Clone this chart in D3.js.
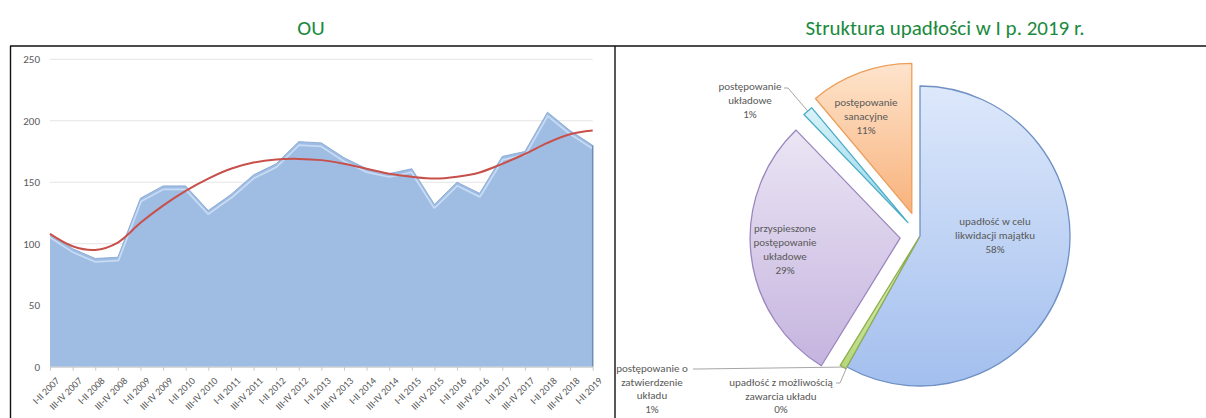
<!DOCTYPE html>
<html>
<head>
<meta charset="utf-8">
<script src="https://cdn.jsdelivr.net/npm/d3@7"></script>
<style>
  body { margin: 0; background: #fff; }
  svg { display: block; font-family: Carlito, Lato, "Open Sans", sans-serif; }
</style>
</head>
<body>
<div class="canvas"></div>
<script>
// ---- data: left chart (OU, half-years) ----
const periods = [
  'I-II 2007', 'III-IV 2007', 'I-II 2008', 'III-IV 2008', 'I-II 2009', 'III-IV 2009',
  'I-II 2010', 'III-IV 2010', 'I-II 2011', 'III-IV 2011', 'I-II 2012', 'III-IV 2012',
  'I-II 2013', 'III-IV 2013', 'I-II 2014', 'III-IV 2014', 'I-II 2015', 'III-IV 2015',
  'I-II 2016', 'III-IV 2016', 'I-II 2017', 'III-IV 2017', 'I-II 2018', 'III-IV 2018',
  'I-II 2019'
];
const ouValues = [108, 96, 88, 89, 137, 147, 147, 127, 140, 156, 165, 183, 182, 170, 161, 157, 161, 132, 150, 141, 171, 175, 207, 192, 180];
// trend line at each period
const trendValues = [108, 98, 95, 101, 117, 131, 143, 153, 161, 166, 168.5, 169, 168, 165, 161, 157, 154.5, 153, 154.5, 158, 165, 173, 182, 189, 192];
const yTicks = [0, 50, 100, 150, 200, 250];

// ---- data: right chart (structure of bankruptcies, I half 2019) ----
const pieNames = [
  'upadłość w celu\nlikwidacji majątku',
  'upadłość z możliwością\nzawarcia układu',
  'postępowanie o\nzatwierdzenie\nukładu',
  'przyspieszone\npostępowanie\nukładowe',
  'postępowanie\nukładowe',
  'postępowanie\nsanacyjne'
];
const pieShares = [58.1, 0, 0.7, 29.0, 1.1, 11.1];

// ---- styles / layout ----
const titleColor = '#1a8a3e';
const textColor = '#595959';
const sliceStyle = [
  { top: '#dde8fb', bottom: '#a3bfee', stroke: '#6f90c4', explode: 0 },
  { top: '#f5d0cf', bottom: '#e59a98', stroke: '#c0504d', explode: 0 },
  { top: '#e3f3c4', bottom: '#b5d77a', stroke: '#8fb04f', explode: 2 },
  { top: '#ebe5f4', bottom: '#c5b4df', stroke: '#9a86bd', explode: 20 },
  { top: '#daf3f9', bottom: '#8fd4e7', stroke: '#4bacc6', explode: 18 },
  { top: '#fee4cc', bottom: '#f8b27c', stroke: '#eb9f5c', explode: 24 }
];
// label anchors (first baseline), line step, and leader starts for outside labels
const labelPos = [[995, 225], [781, 386], [652, 372], [785, 232], [750, 90], [866, 106]];
const labelStep = [14, 13.5, 13.5, 14, 14, 14];
const leaderFrom = [null, [836, 383], [693, 369], null, [784, 88], null];

const W = 1206, H = 418;
const svg = d3.select('.canvas').append('svg')
  .attr('width', W)
  .attr('height', H);

// frame lines (document table)
svg.append('line').attr('x1', 10).attr('x2', W).attr('y1', 46).attr('y2', 46)
  .attr('stroke', '#111').attr('stroke-width', 1.6);
[10.5, 615].forEach(x => {
  svg.append('line').attr('x1', x).attr('x2', x).attr('y1', 46).attr('y2', H)
    .attr('stroke', '#111').attr('stroke-width', 1.4);
});

// titles
svg.append('text').attr('x', 311).attr('y', 35).attr('text-anchor', 'middle')
  .attr('font-size', 21).attr('fill', titleColor).text('OU');
svg.append('text').attr('x', 945).attr('y', 35).attr('text-anchor', 'middle')
  .attr('font-size', 21).attr('fill', titleColor).text('Struktura upadłości w I p. 2019 r.');

// ===== left: area chart =====
const x = d3.scalePoint().domain(periods).range([50, 592.7]);
const y = d3.scaleLinear().domain([0, 250]).range([366.7, 59.3]);

const left = svg.append('g');

// gridlines
left.selectAll('line.grid')
  .data(yTicks.filter(t => t > 0))
  .enter().append('line')
  .attr('class', 'grid')
  .attr('x1', 50).attr('x2', 592.7)
  .attr('y1', d => y(d)).attr('y2', d => y(d))
  .attr('stroke', '#e4e4e4').attr('stroke-width', 1);

// y labels
const yAxis = left.append('g')
  .attr('transform', 'translate(45,0)')
  .call(d3.axisLeft(y).tickValues(yTicks).tickSize(0).tickPadding(5));
yAxis.select('.domain').remove();
yAxis.selectAll('text').attr('fill', textColor).attr('font-size', 11)
  .attr('font-family', 'Carlito, Lato, sans-serif');

// area
const pts = periods.map((p, i) => ({ p, v: ouValues[i] }));
const area = d3.area().x(d => x(d.p)).y0(y(0)).y1(d => y(d.v));
const topLine = d3.line().x(d => x(d.p)).y(d => y(d.v));

const defs = svg.append('defs');
defs.append('clipPath').attr('id', 'areaClip')
  .append('path').attr('d', area(pts));

left.append('path').attr('d', area(pts)).attr('fill', '#9fbce2');
// bevel highlight along the top
left.append('path').attr('d', topLine(pts))
  .attr('transform', 'translate(0,2.5)')
  .attr('fill', 'none').attr('stroke', '#c7dcf4').attr('stroke-width', 3.5)
  .attr('stroke-linejoin', 'round')
  .attr('clip-path', 'url(#areaClip)');
left.append('path').attr('d', topLine(pts))
  .attr('fill', 'none').attr('stroke', '#8eadd8').attr('stroke-width', 1);
// shadow on the right edge
left.append('line')
  .attr('x1', x(periods[periods.length - 1])).attr('x2', x(periods[periods.length - 1]))
  .attr('y1', y(ouValues[ouValues.length - 1])).attr('y2', y(0))
  .attr('stroke', '#6f8db6').attr('stroke-width', 1.5);

// x axis
const xAxis = left.append('g')
  .attr('transform', `translate(0,${y(0)})`)
  .call(d3.axisBottom(x).tickSize(4).tickSizeOuter(0).tickPadding(4));
xAxis.select('.domain').attr('stroke', '#c8c8c8');
xAxis.selectAll('.tick line').attr('stroke', '#c8c8c8');
xAxis.selectAll('text')
  .attr('fill', textColor).attr('font-size', 10)
  .attr('font-family', 'Carlito, Lato, sans-serif')
  .attr('text-anchor', 'end')
  .attr('dx', 0).attr('dy', 0)
  .attr('transform', 'translate(4,9) rotate(-45)');

// trend line
const trend = d3.line()
  .x((d, i) => x(periods[i]))
  .y(d => y(d))
  .curve(d3.curveCatmullRom.alpha(0.5));
left.append('path').attr('d', trend(trendValues))
  .attr('fill', 'none').attr('stroke', '#c8504b').attr('stroke-width', 2);

// ===== right: exploded pie =====
const cent = { x: 920, y: 236 };
const radius = 150;

const pie = d3.pie().sort(null).value(d => d);
const arcs = pie(pieShares);
const arcPath = d3.arc().innerRadius(0).outerRadius(radius);

arcs.forEach((a, i) => {
  const g = defs.append('linearGradient').attr('id', 'grad' + i)
    .attr('x1', 0).attr('y1', 0).attr('x2', 0).attr('y2', 1);
  g.append('stop').attr('offset', '0%').attr('stop-color', sliceStyle[i].top);
  g.append('stop').attr('offset', '100%').attr('stop-color', sliceStyle[i].bottom);
});

const offsetOf = (a, i) => {
  const mid = (a.startAngle + a.endAngle) / 2;
  const e = sliceStyle[i].explode;
  return [Math.sin(mid) * e, -Math.cos(mid) * e];
};

const graph = svg.append('g')
  .attr('transform', `translate(${cent.x}, ${cent.y})`);

graph.selectAll('path.slice')
  .data(arcs.filter(a => a.value > 0))
  .enter().append('path')
  .attr('class', 'slice')
  .attr('d', arcPath)
  .attr('transform', d => {
    const o = offsetOf(d, d.index);
    return `translate(${o[0]},${o[1]})`;
  })
  .attr('fill', d => `url(#grad${d.index})`)
  .attr('stroke', d => sliceStyle[d.index].stroke)
  .attr('stroke-width', 1.3)
  .attr('stroke-linejoin', 'round');

// leader lines for outside labels
arcs.forEach((a, i) => {
  if (!leaderFrom[i]) return;
  const mid = (a.startAngle + a.endAngle) / 2;
  const o = offsetOf(a, i);
  const ex = cent.x + o[0] + Math.sin(mid) * radius;
  const ey = cent.y + o[1] - Math.cos(mid) * radius;
  const [sx, sy] = leaderFrom[i];
  svg.append('polyline')
    .attr('points', `${sx},${sy} ${sx + 4},${sy} ${ex},${ey}`)
    .attr('fill', 'none').attr('stroke', '#a6a6a6').attr('stroke-width', 1);
});

// labels
arcs.forEach((a, i) => {
  const lines = pieNames[i].split('\n').concat(`${Math.round(a.value)}%`);
  const t = svg.append('text')
    .attr('x', labelPos[i][0]).attr('y', labelPos[i][1])
    .attr('text-anchor', 'middle')
    .attr('font-size', 11)
    .attr('fill', textColor);
  lines.forEach((l, k) => {
    t.append('tspan').attr('x', labelPos[i][0]).attr('dy', k === 0 ? 0 : labelStep[i]).text(l);
  });
});
</script>
</body>
</html>
